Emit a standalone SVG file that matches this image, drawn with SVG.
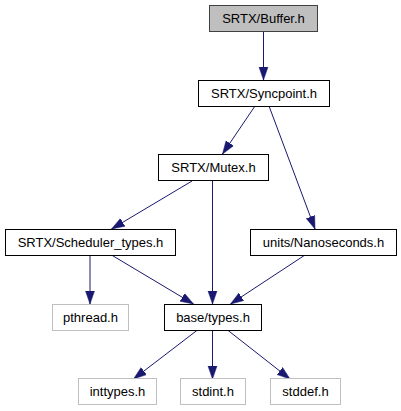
<svg xmlns="http://www.w3.org/2000/svg" width="401" height="411" viewBox="0 0 401 411">
<style>
.n rect{fill:#fff;stroke:#000;stroke-width:1}
.n.sys rect{stroke:#bfbfbf}
.n.cur rect{fill:#bfbfbf;stroke:#404040}
.n text{font-family:"Liberation Sans",Arial,sans-serif;font-size:13px;text-anchor:middle;fill:#000}
.e line{stroke:#191970;stroke-width:1;fill:none}
</style>
<defs>
<marker id="a" markerUnits="userSpaceOnUse" markerWidth="14" markerHeight="11" refX="13" refY="5" orient="auto">
<path d="M0,0.5 L13,5 L0,9.5 Z" fill="#191970" stroke="#191970" stroke-width="0.5"/>
</marker>
</defs>
<rect width="401" height="411" fill="#fff"/>
<g id="edges" class="e">
<line x1="263.5" y1="31" x2="263.5" y2="80" marker-end="url(#a)"/>
<line x1="255" y1="106" x2="222.5" y2="154" marker-end="url(#a)"/>
<line x1="269" y1="106" x2="315" y2="229" marker-end="url(#a)"/>
<line x1="192" y1="181" x2="111.5" y2="229" marker-end="url(#a)"/>
<line x1="212.5" y1="181" x2="212.5" y2="304" marker-end="url(#a)"/>
<line x1="90" y1="255" x2="90" y2="304" marker-end="url(#a)"/>
<line x1="111.5" y1="255" x2="193.5" y2="304" marker-end="url(#a)"/>
<line x1="305" y1="255" x2="230.5" y2="304" marker-end="url(#a)"/>
<line x1="197.5" y1="330" x2="133.5" y2="379" marker-end="url(#a)"/>
<line x1="212.5" y1="330" x2="212.5" y2="379" marker-end="url(#a)"/>
<line x1="227.5" y1="330" x2="290" y2="379" marker-end="url(#a)"/>
</g>
<g id="buffer" class="n cur"><rect x="209.5" y="5.5" width="108" height="26"/><text x="263.5" y="23">SRTX/Buffer.h</text></g>
<g id="syncpoint" class="n"><rect x="198.5" y="80.5" width="131" height="26"/><text x="264" y="98">SRTX/Syncpoint.h</text></g>
<g id="mutex" class="n"><rect x="158.5" y="154.5" width="110" height="26"/><text x="213.5" y="172">SRTX/Mutex.h</text></g>
<g id="scheduler_types" class="n"><rect x="5.5" y="229.5" width="170" height="26"/><text x="90.5" y="247">SRTX/Scheduler_types.h</text></g>
<g id="nanoseconds" class="n"><rect x="250.5" y="229.5" width="146" height="26"/><text x="323.5" y="247">units/Nanoseconds.h</text></g>
<g id="pthread" class="n sys"><rect x="52.5" y="304.5" width="76" height="26"/><text x="90.5" y="322">pthread.h</text></g>
<g id="types" class="n"><rect x="164.5" y="304.5" width="97" height="26"/><text x="213" y="322">base/types.h</text></g>
<g id="inttypes" class="n sys"><rect x="78.5" y="378.5" width="78" height="26"/><text x="117.5" y="396">inttypes.h</text></g>
<g id="stdint" class="n sys"><rect x="180.5" y="378.5" width="65" height="26"/><text x="213" y="396">stdint.h</text></g>
<g id="stddef" class="n sys"><rect x="270.5" y="378.5" width="70" height="26"/><text x="305.5" y="396">stddef.h</text></g>
</svg>
